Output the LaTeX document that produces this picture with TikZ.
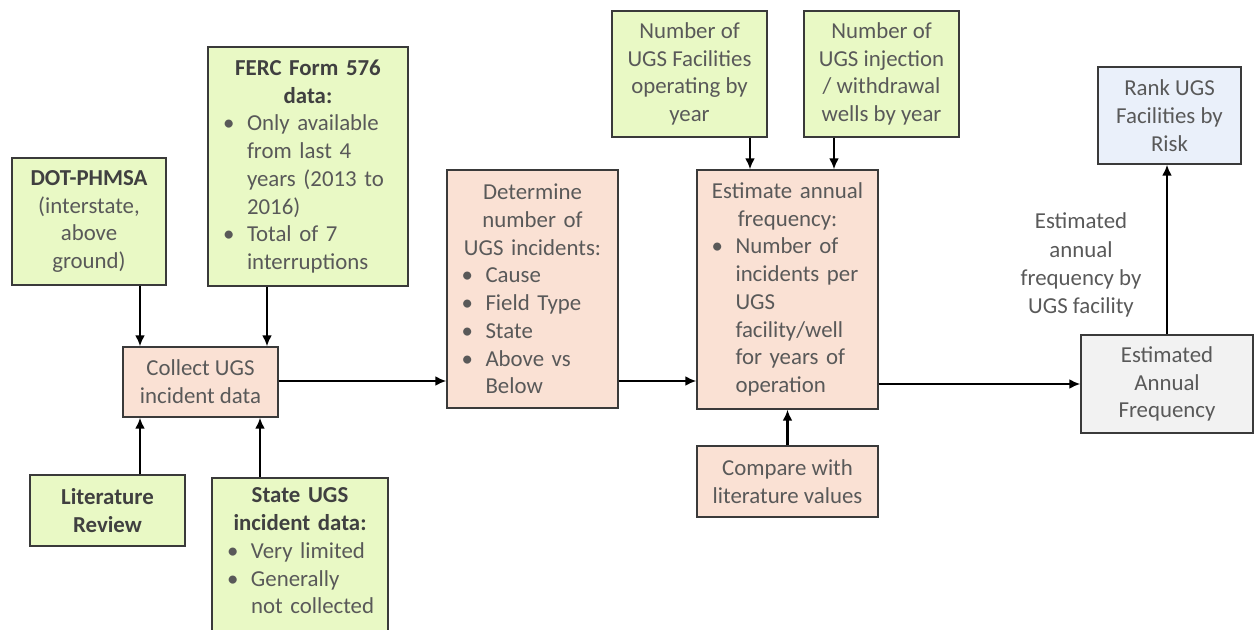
\documentclass[tikz,border=0pt]{standalone}
\usepackage{fontspec}
\setmainfont{Carlito}
\usetikzlibrary{positioning, arrows.meta}

\definecolor{boxgreen}{HTML}{E9F9C5}
\definecolor{boxpeach}{HTML}{FAE1D4}
\definecolor{boxblue}{HTML}{EAF0FA}
\definecolor{boxgray}{HTML}{F2F2F2}
\definecolor{boxline}{HTML}{3A3A3A}
\definecolor{txtgray}{HTML}{595959}
\definecolor{headgray}{HTML}{404040}

\newcommand{\hd}[1]{\leavevmode{\bfseries\color{headgray}#1}}
\newcommand{\ubul}[1]{\par\noindent\hangindent=0.66cm\hangafter=1\makebox[0.66cm][l]{\hspace{0.18cm}\textbullet}#1\par}

\tikzset{
    box/.style={draw=boxline, line width=0.85pt, inner sep=0pt, text=txtgray,
        font=\fontsize{13}{15.8}\selectfont},
    greenbox/.style={box, fill=boxgreen},
    peachbox/.style={box, fill=boxpeach},
    bluebox/.style={box, fill=boxblue},
    graybox/.style={box, fill=boxgray},
    conn/.style={-{Latex[length=2.2mm, width=2mm]}, line width=1.2pt, black},
}

\begin{document}
\begin{tikzpicture}[x=0.02cm, y=-0.02cm]
    \useasboundingbox (0,0) rectangle (1254,629);

    % data sources
    \node[greenbox, minimum width=3.08cm, minimum height=2.54cm, align=center] (dot) at (89,221.5)
        {\hd{DOT-PHMSA}\\(interstate,\\above\\ground)};
    \node[greenbox, minimum width=4.0cm, minimum height=4.78cm, text width=3.76cm] (ferc) at (308,166.5)
        {{\centering\hd{FERC Form 576}\\\hd{data:}\par}\raggedright
         \ubul{Only available\newline from last 4\newline years (2013 to\newline 2016)}
         \ubul{Total of 7\newline interruptions}};
    \node[greenbox, minimum width=3.1cm, minimum height=1.42cm, align=center] (lit) at (107.5,510.5)
        {\hd{Literature}\\\hd{Review}};
    \node[greenbox, anchor=north, minimum width=3.52cm, text width=3.28cm, inner ysep=0.2cm] (state) at (300,477)
        {{\centering\hd{State UGS}\\\hd{incident data:}\par}\raggedright
         \ubul{Very limited}
         \ubul{Generally\newline not collected}\par\vspace{0.6cm}};

    % processing steps
    \node[peachbox, minimum width=3.1cm, minimum height=1.4cm, align=center] (collect) at (200.5,382)
        {Collect UGS\\incident data};
    \node[peachbox, minimum width=3.42cm, minimum height=4.76cm, text width=3.2cm] (determine) at (532.5,289)
        {{\centering Determine\\number of\\UGS incidents:\par}\raggedright
         \ubul{Cause}
         \ubul{Field Type}
         \ubul{State}
         \ubul{Above vs\newline Below}};
    \node[peachbox, minimum width=3.62cm, minimum height=4.78cm, text width=3.4cm] (estimate) at (787.5,289.5)
        {{\centering Estimate annual\\frequency:\par}\raggedright
         \ubul{Number of\newline incidents per\newline UGS\newline facility/well\newline for years of\newline operation}};
    \node[peachbox, minimum width=3.62cm, minimum height=1.42cm, align=center] (compare) at (787.5,481.5)
        {Compare with\\literature values};

    \node[greenbox, minimum width=3.1cm, minimum height=2.52cm, align=center] (numfac) at (689.5,74)
        {Number of\\UGS Facilities\\operating by\\year};
    \node[greenbox, minimum width=3.1cm, minimum height=2.52cm, align=center] (numwells) at (881.5,74)
        {Number of\\UGS injection\\/ withdrawal\\wells by year};

    % results
    \node[graybox, minimum width=3.44cm, minimum height=1.96cm, align=center] (estaf) at (1167,384)
        {Estimated\\Annual\\Frequency};
    \node[bluebox, minimum width=2.86cm, minimum height=1.94cm, align=center] (rank) at (1169.5,115.5)
        {Rank UGS\\Facilities by\\Risk};
    \node[text=txtgray, align=center, font=\fontsize{13}{16}\selectfont] (aflabel) at (1081,265)
        {Estimated\\annual\\frequency by\\UGS facility};

    \coordinate (c1) at (140,0);
    \coordinate (c2) at (267,0);
    \coordinate (c3) at (260,0);
    \coordinate (c4) at (750,0);
    \coordinate (c5) at (834,0);
    \coordinate (r1) at (0,381);

    \draw[conn] (dot.south -| c1) -- (collect.north -| c1);
    \draw[conn] (ferc.south -| c2) -- (collect.north -| c2);
    \draw[conn] (lit.north -| c1) -- (collect.south -| c1);
    \draw[conn] (state.north -| c3) -- (collect.south -| c3);
    \draw[conn] (collect.east |- r1) -- (determine.west |- r1);
    \draw[conn] (determine.east |- r1) -- (estimate.west |- r1);
    \draw[conn] (numfac.south -| c4) -- (estimate.north -| c4);
    \draw[conn] (numwells.south -| c5) -- (estimate.north -| c5);
    \draw[conn] (compare.north) -- (estimate.south);
    \draw[conn] (estimate.east |- estaf.west) -- (estaf.west);
    \draw[conn] (estaf.north) -- (estaf.north |- rank.south);

\end{tikzpicture}
\end{document}
